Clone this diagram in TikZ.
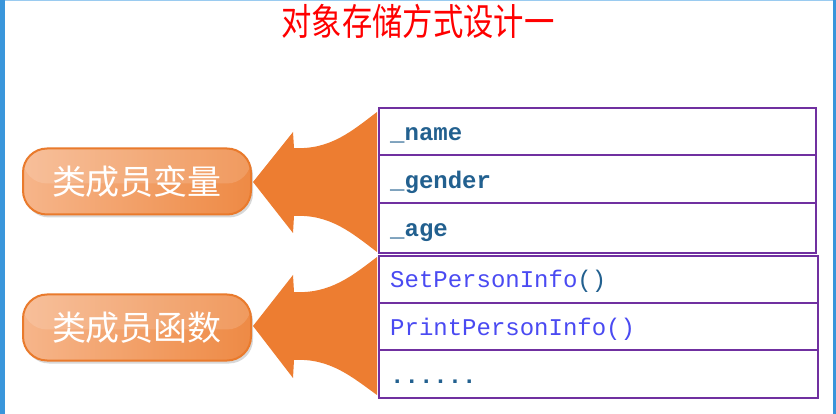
\documentclass[tikz,border=0pt]{standalone}
\usepackage{fontspec}
\setmonofont{Liberation Mono}
\newfontfamily\cjk{Noto Sans CJK SC}
\usetikzlibrary{shadows}
\definecolor{edgeblue}{HTML}{3A96DB}
\definecolor{topblue}{HTML}{9ACBF0}
\definecolor{arrorange}{HTML}{ED7D31}
\definecolor{pillL}{HTML}{F6B58A}
\definecolor{pillR}{HTML}{EE8A45}
\definecolor{pillE}{HTML}{E97A2C}
\definecolor{tblpurple}{HTML}{7030A0}
\definecolor{vartext}{HTML}{22608F}
\definecolor{fntext}{HTML}{4A4AF2}
\tikzset{
  pill/.style={draw=pillE, line width=2pt, rounded corners=24pt,
    left color=pillL, right color=pillR,
    minimum width=228pt, minimum height=66pt, inner sep=0pt,
    text=white, font=\cjk\fontsize{34}{36}\selectfont,
    drop shadow={shadow xshift=2pt, shadow yshift=-3pt, opacity=0.25, fill=black!60},
    path picture={\fill[white,opacity=0.14] (path picture bounding box.north west) rectangle ([yshift=-2pt]path picture bounding box.east);}},
  bigarrow/.style={fill=arrorange, draw=none},
  grp/.style={draw=tblpurple, line width=2.4pt},
  sep/.style={draw=tblpurple, line width=2.2pt},
  vartxt/.style={anchor=base west, inner sep=0pt, text=vartext, font=\ttfamily\bfseries\fontsize{24}{26}\selectfont},
  fntxt/.style={anchor=base west, inner sep=0pt, text=fntext, font=\ttfamily\fontsize{24}{26}\selectfont},
  titletxt/.style={text=red, font=\cjk\fontsize{37}{40}\selectfont, xscale=0.82, transform shape, inner sep=0pt}
}
\begin{document}
\begin{tikzpicture}[x=1pt,y=-1pt]
\useasboundingbox (0,0) rectangle (836,414);
% frame
\fill[white] (0,0) rectangle (836,414);
\fill[edgeblue] (0,0) rectangle (5,414);
\fill[edgeblue] (833,0) rectangle (836,414);
\fill[topblue] (5,0) rectangle (833,1.5);
% title
\node[titletxt] (title) at (418,21) {对象存储方式设计一};
% table
\coordinate (g1nw) at (379,108);
\coordinate (g1se) at (816,253);
\coordinate (g2nw) at (379,256);
\coordinate (g2se) at (818,398);
\draw[grp] (g1nw) rectangle (g1se);
\draw[sep] (379,155) -- (816,155);
\draw[sep] (379,203) -- (816,203);
\draw[grp] (g2nw) rectangle (g2se);
\draw[sep] (379,303) -- (818,303);
\draw[sep] (379,350) -- (818,350);
\node[vartxt] (r1) at (390,141) {\_name};
\node[vartxt] (r2) at (390,189) {\_gender};
\node[vartxt] (r3) at (390,237) {\_age};
\node[fntxt] (r4) at (390,288) {SetPersonInfo\textcolor{vartext}{()}};
\node[fntxt] (r5) at (390,335) {PrintPersonInfo()};
\node[vartxt] (r6) at (390,383) {......};
% arrows
\fill[bigarrow] (253,182) -- (293,132) -- (294,148)
  .. controls (330,150) and (352,131) .. (377,112) -- (377,252)
  .. controls (352,233) and (330,214) .. (294,216) -- (293,233) -- cycle;
\fill[bigarrow] (253,326) -- (293,275) -- (294,292)
  .. controls (330,294) and (352,276) .. (377,257) -- (377,395)
  .. controls (352,377) and (330,358) .. (294,360) -- (293,378) -- cycle;
% pills
\node[pill] (p1) at (137,181.5) {类成员变量};
\node[pill] (p2) at (137,327.5) {类成员函数};
\end{tikzpicture}
\end{document}
